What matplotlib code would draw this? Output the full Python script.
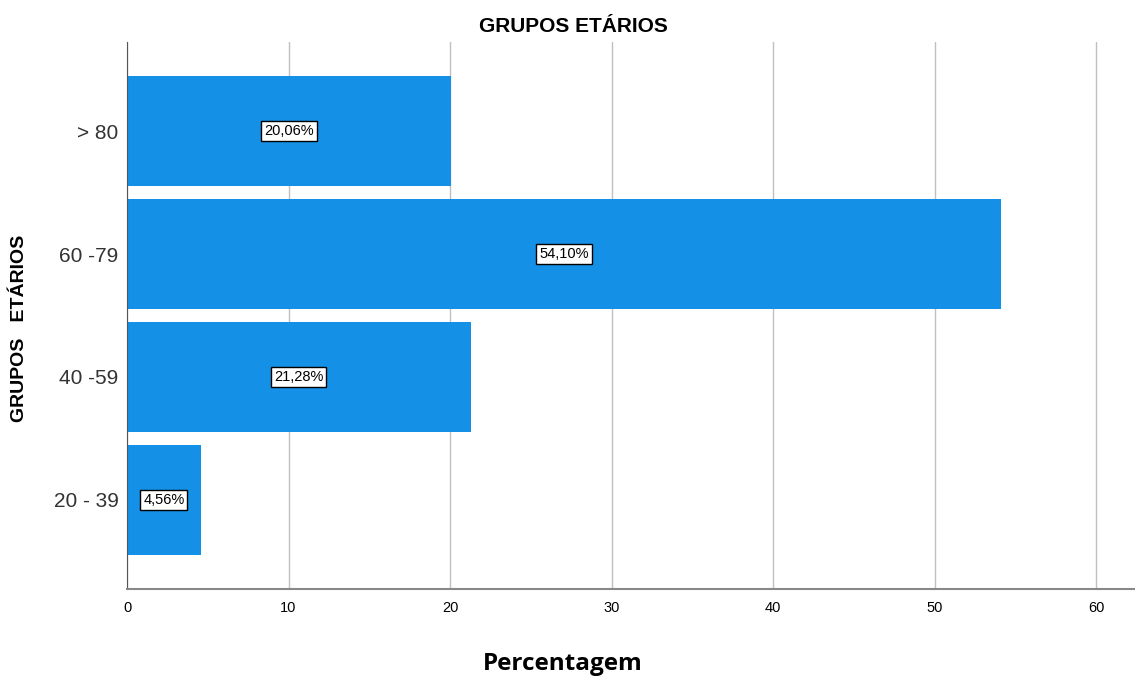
import matplotlib.pyplot as plt
import numpy as np

categories = ['20 - 39', '40 -59', '60 -79', '> 80']
values = [4.56, 21.28, 54.10, 20.06]
labels = ['4,56%', '21,28%', '54,10%', '20,06%']
xticks = [0, 10, 20, 30, 40, 50, 60]

plt.rcParams['font.family'] = ['Liberation Sans', 'DejaVu Sans']

fig = plt.figure(figsize=(11.35, 6.77), dpi=100)
ax = fig.add_axes([127 / 1135, 88 / 677, 1 - 127 / 1135, (589 - 42) / 677])

pos = np.arange(len(categories))
ax.barh(pos, values, height=0.895, color='#1490E6', zorder=2)
for p, v, lab in zip(pos, values, labels):
    ax.text(v / 2, p, lab, ha='center', va='center', fontsize=10.5, zorder=3,
            bbox=dict(boxstyle='square,pad=0.2', facecolor='white', edgecolor='black', linewidth=1))

ax.set_xlim(0, 62.4)
ax.set_ylim(-0.724, 3.724)
ax.set_yticks(pos)
ax.set_yticklabels(categories, fontsize=15, color='#333333')
ax.set_xticks(xticks)
ax.set_xticklabels([str(t) for t in xticks], fontsize=10.5)
ax.tick_params(axis='both', length=0)
ax.tick_params(axis='x', pad=9)
ax.tick_params(axis='y', pad=6)
ax.grid(axis='x', color='#C0C0C0', linewidth=1, zorder=0)
ax.set_axisbelow(True)
for s in ['top', 'right']:
    ax.spines[s].set_visible(False)
ax.spines['left'].set_color('#555555')
ax.spines['bottom'].set_color('#888888')
ax.spines['bottom'].set_linewidth(1.5)

fig.text(573 / 1135, 1 - 27 / 677, 'GRUPOS ETÁRIOS', ha='center', va='center',
         fontsize=15, fontweight='bold')
fig.text(20 / 1135, 1 - 328 / 677, 'GRUPOS   ETÁRIOS', ha='center', va='center',
         rotation=90, fontsize=14, fontweight='bold')
fig.text(563 / 1135, 1 - 664 / 677, 'Percentagem', ha='center', va='center',
         fontsize=17.5, fontweight='bold', family=['Open Sans', 'DejaVu Sans'])

fig.savefig('out.png', dpi=100)
